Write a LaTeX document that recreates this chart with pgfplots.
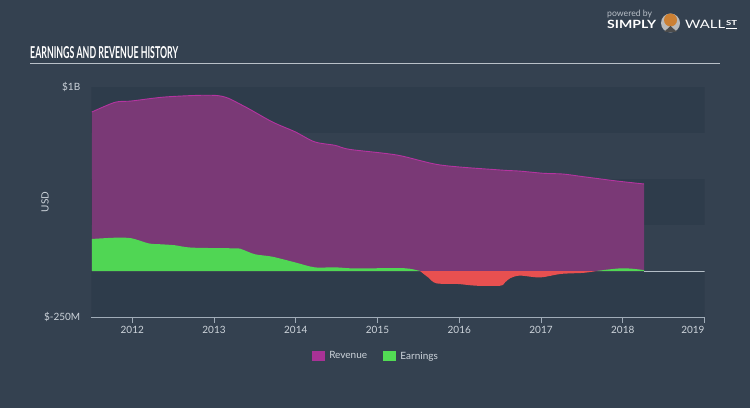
\documentclass[border=0pt]{standalone}
\usepackage{fontspec}
\setmainfont{Lato}
\usepackage{graphicx}
\usepackage{pgfplots}
\pgfplotsset{compat=1.18}
\definecolor{bg}{RGB}{52,65,80}
\definecolor{band}{RGB}{46,60,75}
\definecolor{revfill}{RGB}{122,57,118}
\definecolor{revline}{RGB}{180,52,160}
\definecolor{revleg}{RGB}{168,50,150}
\definecolor{earnfill}{RGB}{80,214,84}
\definecolor{earnleg}{RGB}{82,220,84}
\definecolor{lossfill}{RGB}{232,80,80}
\definecolor{axisc}{RGB}{160,172,184}
\definecolor{txt}{RGB}{205,212,219}
\definecolor{logogrey}{RGB}{185,192,200}
\begin{document}
\begin{tikzpicture}
\fill[bg] (0pt,0pt) rectangle (750pt,408pt);
\begin{axis}[
  at={(91.4pt,91pt)}, anchor=south west,
  scale only axis, width=613.1pt, height=230pt,
  xmin=2011.5, xmax=2019, ymin=-250, ymax=1000,
  axis x line*=bottom, axis y line*=left,
  x axis line style={draw=axisc, line width=1pt},
  y axis line style={draw=none},
  xtick={2012,2013,2014,2015,2016,2017,2018,2019},
  xticklabels={2012,2013,2014,2015,2016,2017,2018,\makebox[0pt][r]{2019}},
  ytick={-250,1000}, yticklabels={\$-250M,\$1B},
  tick align=outside, major tick length=6pt,
  xtick style={draw=axisc, line width=0.8pt},
  ytick style={draw=none},
  ticklabel style={text=txt, font=\fontsize{10}{11}\selectfont},
  xticklabel style={anchor=north, inner sep=0pt, yshift=-3pt},
  yticklabel style={anchor=east, inner sep=0pt, xshift=-5pt},
  ylabel={USD},
  every axis y label/.style={at={(axis description cs:-0.0757,0.5)}, rotate=90, anchor=center, text=txt, font=\fontsize{10}{11}\selectfont},
  legend columns=2,
  legend style={at={(axis description cs:0.464,-0.17)}, anchor=center, draw=none, fill=none, text=txt, font=\fontsize{10}{11}\selectfont, /tikz/every even column/.append style={column sep=14pt}},
  legend cell align=left,
  clip=true,
]
\fill[band] (axis cs:2011.5,750) rectangle (axis cs:2019,1000);
\fill[band] (axis cs:2011.5,250) rectangle (axis cs:2019,500);
\fill[band] (axis cs:2011.5,-250) rectangle (axis cs:2019,0);
% Revenue
\addplot[forget plot, draw=none, fill=revfill, smooth, tension=0.5] coordinates {
(2011.505,864)(2011.79,917)(2011.99,924)(2012.44,947)(2013.05,953)(2013.34,902)(2013.71,811)(2013.99,757)(2014.23,702)(2014.48,683)(2014.66,661)(2015.24,630)(2015.77,576)(2016.50,549)(2016.74,543)(2017.03,531)(2017.27,527)(2017.51,513)(2017.93,489)(2018.26,473)
} \closedcycle;
\addplot[forget plot, draw=revline, line width=0.9pt, smooth, tension=0.5] coordinates {
(2011.505,864)(2011.79,917)(2011.99,924)(2012.44,947)(2013.05,953)(2013.34,902)(2013.71,811)(2013.99,757)(2014.23,702)(2014.48,683)(2014.66,661)(2015.24,630)(2015.77,576)(2016.50,549)(2016.74,543)(2017.03,531)(2017.27,527)(2017.51,513)(2017.93,489)(2018.26,473)
};
% Earnings positive
\addplot[forget plot, draw=none, fill=earnfill, smooth, tension=0.5] coordinates {
(2011.505,174)(2011.79,181)(2011.99,178)(2012.20,150)(2012.36,145)(2012.52,140)(2012.73,127)(2013.26,123)(2013.34,118)(2013.50,91)(2013.71,78)(2013.99,47)(2014.23,20)(2014.48,20)(2014.70,14)(2015.00,15)(2015.27,16)(2015.40,12)(2015.52,0)
} \closedcycle;
\addplot[forget plot, draw=none, fill=lossfill, smooth, tension=0.5] coordinates {
(2015.52,0)(2015.62,-35)(2015.72,-67)(2015.97,-70)(2016.21,-80)(2016.50,-80)(2016.56,-62)(2016.62,-40)(2016.74,-25)(2016.99,-35)(2017.24,-16)(2017.52,-10)(2017.68,0)
} \closedcycle;
\addplot[forget plot, draw=none, fill=earnfill, smooth, tension=0.5] coordinates {
(2017.68,0)(2017.82,8)(2017.96,14)(2018.10,13)(2018.26,5)
} \closedcycle;
\addplot[forget plot, draw=axisc!80!white, line width=0.8pt] coordinates {(2018.26,0)(2019,0)};
\addlegendimage{legend image code/.code={\fill[revleg] (0pt,-4.5pt) rectangle (12pt,4.5pt); \path (15pt,0pt);}}
\addlegendentry{Revenue}
\addlegendimage{legend image code/.code={\fill[earnleg] (0pt,-4.5pt) rectangle (12pt,4.5pt); \path (15pt,0pt);}}
\addlegendentry{Earnings}
\end{axis}
% title
\node[anchor=base west, inner sep=0pt, text=white] at (30pt,350pt) {\resizebox{148pt}{12pt}{\bfseries EARNINGS AND REVENUE HISTORY}};
\draw[draw=logogrey, line width=1.5pt] (30pt,344.5pt) -- (720pt,344.5pt);
% logo
\node[anchor=base west, inner sep=0pt, text=logogrey] at (607pt,391pt) {\resizebox{45pt}{!}{powered by}};
\node[anchor=base west, inner sep=0pt, text=white] at (607pt,379pt) {\resizebox{49pt}{8.3pt}{\bfseries SIMPLY}};
\fill[gray!55] (670.5pt,385pt) circle (9.5pt);
\fill[brown!80!orange] (670.5pt,388pt) circle (6.5pt);
\fill[black!70] (664pt,376pt) -- (677pt,376pt) -- (670.5pt,382pt) -- cycle;
\node[anchor=base west, inner sep=0pt, text=white] at (685pt,379pt) {\resizebox{40pt}{8.3pt}{WALL}};
\node[anchor=base west, inner sep=0pt, text=white] at (726pt,382pt) {\resizebox{11pt}{5pt}{\bfseries ST}};
\draw[white, line width=0.9pt] (726pt,380pt) -- (737pt,380pt);
\end{tikzpicture}
\end{document}
